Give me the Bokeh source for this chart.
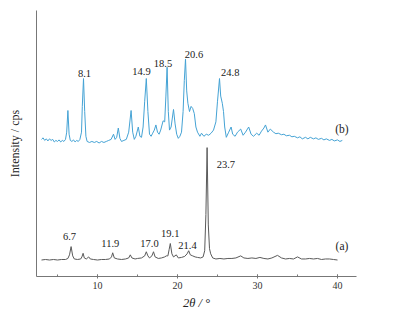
from bokeh.plotting import figure
from bokeh.models import Range1d, SingleIntervalTicker, FixedTicker, Label, Title
from bokeh.embed import file_html
from bokeh.resources import INLINE

# --- data: trace (b), offset upward in the stacked plot ---
b_theta = [3.0, 3.2, 3.4, 3.6, 3.8, 4.0, 4.2, 4.4, 4.6, 4.8, 5.0, 5.2, 5.4, 5.6, 5.8, 6.0,
           6.15, 6.3, 6.45, 6.6, 6.8, 7.0, 7.2, 7.4, 7.6, 7.8, 8.0, 8.1, 8.25, 8.4, 8.55, 8.7,
           9.0, 9.3, 9.6, 9.9, 10.2, 10.5, 10.8, 11.1, 11.4, 11.7, 12.0, 12.2, 12.4, 12.6, 12.8,
           13.0, 13.3, 13.6, 13.9, 14.2, 14.4, 14.6, 14.8, 15.1, 15.3, 15.5, 15.7, 15.9, 16.1,
           16.3, 16.5, 16.7, 16.9, 17.1, 17.3, 17.5, 17.7, 17.9, 18.2, 18.4, 18.55, 18.7, 18.85,
           19.0, 19.2, 19.5, 19.7, 19.9, 20.1, 20.3, 20.5, 20.7, 20.85, 21.0, 21.15, 21.3, 21.5,
           21.7, 21.9, 22.1, 22.3, 22.5, 22.8, 23.0, 23.3, 23.6, 23.9, 24.2, 24.5, 24.8, 25.0,
           25.25, 25.4, 25.6, 25.75, 25.9, 26.1, 26.4, 26.7, 26.9, 27.2, 27.5, 27.9, 28.2, 28.5,
           28.9, 29.2, 29.5, 29.9, 30.2, 30.5, 30.8, 31.0, 31.3, 31.6, 32.0, 32.3, 32.6, 33.0,
           33.3, 33.6, 34.0, 34.3, 34.6, 35.0, 35.3, 35.6, 36.0, 36.3, 36.6, 37.0, 37.3, 37.6,
           38.0, 38.3, 38.6, 39.0, 39.3, 39.6, 40.0, 40.3, 40.6]
b_int = [133, 134.5, 132, 133.5, 131.5, 133.5, 132, 133, 130.5, 132, 131, 132.5, 130.5, 132, 131, 133,
         140, 161, 138, 132, 131, 132.5, 130.5, 132, 131, 133, 140, 165, 192, 160, 136, 131,
         130, 131, 130, 131, 129.5, 131, 130, 131, 132, 133, 138, 133, 135, 144, 134,
         131, 132, 133, 140, 161, 140, 133, 136, 145, 136, 135, 145, 170, 192,
         160, 138, 136, 139, 142, 147, 140, 138, 142, 151, 150, 175, 203, 160,
         142, 145, 162, 148, 138, 134, 136, 140, 160, 190, 211, 180, 168, 160,
         165, 163, 158, 145, 140, 136, 139, 136, 138, 137, 139, 142, 150, 170,
         192, 175, 168, 160, 145, 135, 140, 145, 138, 136, 140, 143, 137, 140,
         145, 138, 136, 139, 137, 141, 144, 147, 140, 143, 140, 138.5, 139, 137.5,
         138, 136.5, 137, 135.5, 136, 134.5, 135.5, 133.5, 135, 133.5, 135, 133.5, 134.5, 133,
         134, 132.5, 133.5, 132, 133, 131.5, 132.5, 131, 132]

# --- data: trace (a) ---
a_theta = [3.0, 3.5, 4.0, 4.5, 5.0, 5.5, 6.0, 6.3, 6.5, 6.7, 6.9, 7.1, 7.5, 7.9, 8.05, 8.2,
           8.35, 8.6, 8.9, 9.1, 9.5, 10.0, 10.5, 11.0, 11.5, 11.75, 11.9, 12.1, 12.5, 13.0,
           13.5, 13.9, 14.1, 14.3, 14.7, 15.0, 15.5, 15.9, 16.1, 16.3, 16.5, 16.8, 17.0, 17.2,
           17.6, 18.0, 18.4, 18.6, 18.8, 18.95, 19.1, 19.3, 19.5, 19.85, 20.1, 20.5, 20.9,
           21.2, 21.4, 21.6, 21.9, 22.2, 22.5, 22.9, 23.2, 23.4, 23.55, 23.7, 23.85, 24.0,
           24.15, 24.4, 24.8, 25.3, 25.8, 26.3, 26.8, 27.3, 27.9, 28.3, 28.8, 29.3, 29.8,
           30.3, 30.8, 31.3, 31.8, 32.5, 33.0, 33.5, 34.0, 34.5, 35.0, 35.5, 36.0, 36.5,
           37.0, 37.5, 38.0, 38.5, 39.0, 39.5, 40.0]
a_int = [16, 16.5, 16, 16.5, 16, 16.5, 16.5, 17.5, 21, 29, 20, 17, 16.5, 17, 19, 22.5,
         18, 17, 19, 17, 16.5, 16, 16.5, 16.5, 17, 19, 23, 18, 17, 16.5,
         17, 18, 21, 18, 17, 17.5, 18, 20, 24, 20, 18, 20, 24, 19,
         17.5, 18, 19, 20, 20, 26, 32, 22, 19, 21, 18, 18.5, 19.5,
         22, 25, 21, 20, 19, 18.5, 18, 19, 25, 60, 125, 50, 27,
         22, 18, 17, 17.5, 17, 17.5, 17.5, 18, 20, 18, 17.5, 18, 17.5,
         18.5, 17.5, 17, 18, 20.5, 18, 17, 17.5, 17, 19, 17, 17, 17.5,
         17, 17.5, 16.5, 17, 17, 16.5, 16]

# --- annotations ---
b_labels = ["8.1", "14.9", "18.5", "20.6", "24.8"]
b_label_x = [8.375, 15.5, 18.19, 22.06, 26.6]
b_label_y = [197, 199, 207, 215, 198]
a_labels = ["6.7", "11.9", "17.0", "19.1", "21.4"]
a_label_x = [6.5, 11.6, 16.5, 19.1, 21.25]
a_label_y = [39, 32, 32, 42, 30]
trace_names = ["(b)", "(a)"]
trace_name_x = [40.56, 40.56]
trace_name_y = [143, 30]

FONT = "Liberation Serif"
AXIS_COLOR = "#777777"
TEXT_COLOR = "#222222"

p = figure(width=392, height=311, output_backend="svg", toolbar_location=None,
           x_range=Range1d(2.375, 42.375), y_range=Range1d(0, 258),
           min_border_left=36, min_border_right=36, min_border_top=10, min_border_bottom=20)
p.outline_line_color = None
p.grid.visible = False
p.background_fill_color = "white"
p.border_fill_color = "white"

p.line(b_theta, b_int, line_color="#45a3d5", line_width=1)
p.line(a_theta, a_int, line_color="#5a5a5a", line_width=1)

for t, x, y in zip(b_labels, b_label_x, b_label_y):
    p.add_layout(Label(x=x, y=y, text=t, text_font=FONT, text_font_size="10.5px",
                       text_align="center", text_baseline="middle", text_color=TEXT_COLOR))
for t, x, y in zip(a_labels, a_label_x, a_label_y):
    p.add_layout(Label(x=x, y=y, text=t, text_font=FONT, text_font_size="10.5px",
                       text_align="center", text_baseline="middle", text_color=TEXT_COLOR))
p.add_layout(Label(x=24.9, y=109, text="23.7", text_font=FONT, text_font_size="10.5px",
                   text_align="left", text_baseline="middle", text_color=TEXT_COLOR))
for t, x, y in zip(trace_names, trace_name_x, trace_name_y):
    p.add_layout(Label(x=x, y=y, text=t, text_font=FONT, text_font_size="11.5px",
                       text_align="center", text_baseline="middle", text_color=TEXT_COLOR))

# x axis
xa = p.xaxis[0]
xa.ticker = SingleIntervalTicker(interval=10, num_minor_ticks=2)
xa.axis_line_color = AXIS_COLOR
xa.major_tick_line_color = AXIS_COLOR
xa.minor_tick_line_color = AXIS_COLOR
xa.major_tick_in = 2
xa.major_tick_out = 2
xa.minor_tick_in = 2
xa.minor_tick_out = 0
xa.major_label_standoff = 3
xa.major_label_text_font = FONT
xa.major_label_text_font_size = "10px"
xa.major_label_text_color = "#333333"
xa.axis_label = None

p.add_layout(Title(text="2θ / °", align="center", offset=12, standoff=4,
                   text_font=FONT, text_font_size="12.5px", text_font_style="italic",
                   text_color=TEXT_COLOR), "below")

# y axis
ya = p.yaxis[0]
ya.ticker = FixedTicker(ticks=[])
ya.axis_line_color = AXIS_COLOR
ya.major_tick_line_color = None
ya.minor_tick_line_color = None
ya.major_label_standoff = 0
ya.axis_label = "Intensity / cps"
ya.axis_label_text_font = FONT
ya.axis_label_text_font_size = "12px"
ya.axis_label_text_font_style = "normal"
ya.axis_label_text_color = TEXT_COLOR
ya.axis_label_standoff = 15

open("out.html", "w").write(file_html(p, INLINE))
